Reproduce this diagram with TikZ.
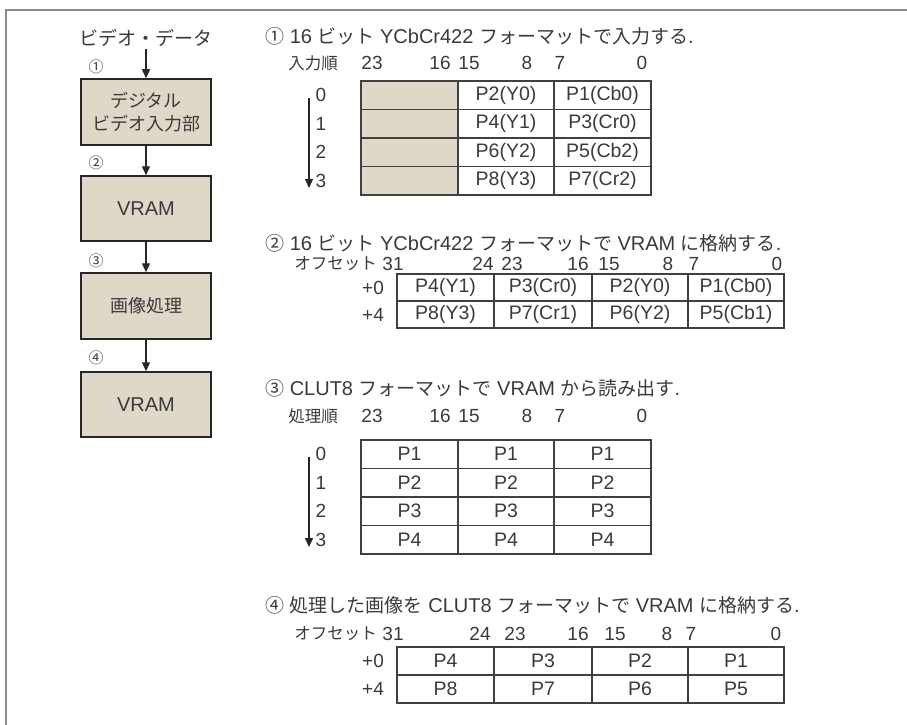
\documentclass[tikz,border=0pt]{standalone}
\usepackage{fontspec}
\setmainfont{Liberation Sans}
\newfontfamily\jpf{Noto Sans CJK JP}
\usetikzlibrary{arrows.meta}
\definecolor{beige}{HTML}{DFD8C8}
\definecolor{txt}{HTML}{3A3A3A}
\definecolor{framec}{HTML}{8A8A8A}
\definecolor{linec}{HTML}{404040}
\newcommand\tj[1]{{\jpf\fontsize{19}{22}\selectfont #1}}
\newcommand\hj[1]{{\jpf\fontsize{16.5}{18}\selectfont #1}}
\begin{document}
\begin{tikzpicture}[x=1pt,y=-1pt,
  ttl/.style={font=\fontsize{20}{22}\selectfont, text=txt, inner sep=0pt, anchor=west},
  lbl/.style={font=\fontsize{19}{21}\selectfont, text=txt, inner sep=0pt},
  sml/.style={font=\jpf\fontsize{15}{18}\selectfont, text=txt, inner sep=0pt},
  fbox/.style={draw=black!85, fill=beige, line width=1.5pt, minimum width=130pt, minimum height=66pt, inner sep=0pt, align=center, font=\jpf\fontsize{18}{22.5}\selectfont, text=txt},
  arr/.style={-{Triangle[length=9pt,width=8pt]}, line width=1.4pt, draw=black!85},
  cell/.style={draw=linec, line width=1.1pt, inner sep=0pt, font=\fontsize{19.5}{22}\selectfont, text=txt}
]
\useasboundingbox (0,0) rectangle (907,725);
\fill[white] (0,0) rectangle (907,725);
% frame
\coordinate (fl) at (6,725);
\coordinate (ft) at (6,10);
\coordinate (fr) at (907,10);
\draw[framec, line width=2pt] (fl) -- (ft) -- (fr);

% left column
\node[lbl, font=\jpf\fontsize{19}{22}\selectfont] (vd) at (146,38) {ビデオ・データ};
\node[fbox] (b1) at (146,112) {デジタル\\ビデオ入力部};
\node[fbox, minimum height=65pt, font=\fontsize{20}{22}\selectfont] (b2) at (146,208.5) {VRAM};
\node[fbox] (b3) at (146,306) {画像処理};
\node[fbox, minimum height=65pt, font=\fontsize{20}{22}\selectfont] (b4) at (146,404.5) {VRAM};
\node[sml] (n1) at (96,67) {①};
\node[sml] (n2) at (96,163) {②};
\node[sml] (n3) at (96,261) {③};
\node[sml] (n4) at (96,358) {④};
\draw[arr] (vd.south) ++(0,2) -- (b1.north);
\draw[arr] (b1.south) -- (b2.north);
\draw[arr] (b2.south) -- (b3.north);
\draw[arr] (b3.south) -- (b4.north);

% ---------- section 1
\node[ttl] (t1) at (265,36) {\tj{①} 16 \tj{ビット} YCbCr422 \tj{フォーマットで入力する}.};
\node[lbl, anchor=east] (h1) at (338,63) {\hj{入力順}};
\foreach \v/\x in {23/372,16/440,15/469,8/527,7/560,0/642}
  \node[lbl] (h1-\v) at (\x,63) {\v};
\foreach \r/\a/\b in {0/{P2(Y0)}/{P1(Cb0)},1/{P4(Y1)}/{P3(Cr0)},2/{P6(Y2)}/{P5(Cb2)},3/{P8(Y3)}/{P7(Cr2)}}{
  \pgfmathsetmacro\yy{81+28.5*\r+14.25}
  \node[cell, fill=beige, minimum width=97pt, minimum height=28.5pt] (t1a\r) at (409.5,\yy) {};
  \node[cell, minimum width=96pt, minimum height=28.5pt] (t1b\r) at (506,\yy) {\a};
  \node[cell, minimum width=97pt, minimum height=28.5pt] (t1c\r) at (602.5,\yy) {\b};
  \node[lbl] (r1-\r) at (321,\yy) {\r};
}
\coordinate (a1s) at (309,98);
\coordinate (a1e) at (309,188);
\draw[arr] (a1s) -- (a1e);

% ---------- section 2
\node[ttl] (t2) at (265,243) {\tj{②} 16 \tj{ビット} YCbCr422 \tj{フォーマットで} VRAM \tj{に格納する}.};
\node[lbl, anchor=east] (h2) at (377,264) {\hj{オフセット}};
\foreach \v/\x in {31/393,24/483,23/512,16/578,15/609,8/668,7/694,0/777}
  \node[lbl] (h2-\v) at (\x,264) {\v};
\foreach \r/\o/\a/\b/\c/\d in {0/+0/{P4(Y1)}/{P3(Cr0)}/{P2(Y0)}/{P1(Cb0)},1/+4/{P8(Y3)}/{P7(Cr1)}/{P6(Y2)}/{P5(Cb1)}}{
  \pgfmathsetmacro\yy{274+27*\r+13.5}
  \node[cell, minimum width=97pt, minimum height=27pt] (t2a\r) at (445.5,\yy) {\a};
  \node[cell, minimum width=98pt, minimum height=27pt] (t2b\r) at (543,\yy) {\b};
  \node[cell, minimum width=96pt, minimum height=27pt] (t2c\r) at (640,\yy) {\c};
  \node[cell, minimum width=96pt, minimum height=27pt] (t2d\r) at (736,\yy) {\d};
  \node[lbl] (r2-\r) at (373,\yy) {\o};
}

% ---------- section 3
\node[ttl] (t3) at (265,388) {\tj{③} CLUT8 \tj{フォーマットで} VRAM \tj{から読み出す}.};
\node[lbl, anchor=east] (h3) at (338,416) {\hj{処理順}};
\foreach \v/\x in {23/372,16/440,15/469,8/527,7/560,0/642}
  \node[lbl] (h3-\v) at (\x,416) {\v};
\foreach \r/\p in {0/P1,1/P2,2/P3,3/P4}{
  \pgfmathsetmacro\yy{440+28.5*\r+14.25}
  \node[cell, minimum width=97pt, minimum height=28.5pt] (t3a\r) at (409.5,\yy) {\p};
  \node[cell, minimum width=96pt, minimum height=28.5pt] (t3b\r) at (506,\yy) {\p};
  \node[cell, minimum width=97pt, minimum height=28.5pt] (t3c\r) at (602.5,\yy) {\p};
  \node[lbl] (r3-\r) at (321,\yy) {\r};
}
\coordinate (a3s) at (309,457);
\coordinate (a3e) at (309,547);
\draw[arr] (a3s) -- (a3e);

% ---------- section 4
\node[ttl] (t4) at (265,605) {\tj{④} \tj{処理した画像を} CLUT8 \tj{フォーマットで} VRAM \tj{に格納する}.};
\node[lbl, anchor=east] (h4) at (377,634) {\hj{オフセット}};
\foreach \v/\x in {31/393,24/480,23/515,16/578,15/615,8/667,7/691,0/776}
  \node[lbl] (h4-\v) at (\x,634) {\v};
\foreach \r/\o/\a/\b/\c/\d in {0/+0/P4/P3/P2/P1,1/+4/P8/P7/P6/P5}{
  \pgfmathsetmacro\yy{647+28*\r+14}
  \node[cell, minimum width=97pt, minimum height=28pt] (t4a\r) at (445.5,\yy) {\a};
  \node[cell, minimum width=98pt, minimum height=28pt] (t4b\r) at (543,\yy) {\b};
  \node[cell, minimum width=96pt, minimum height=28pt] (t4c\r) at (640,\yy) {\c};
  \node[cell, minimum width=96pt, minimum height=28pt] (t4d\r) at (736,\yy) {\d};
  \node[lbl] (r4-\r) at (373,\yy) {\o};
}
\end{tikzpicture}
\end{document}
